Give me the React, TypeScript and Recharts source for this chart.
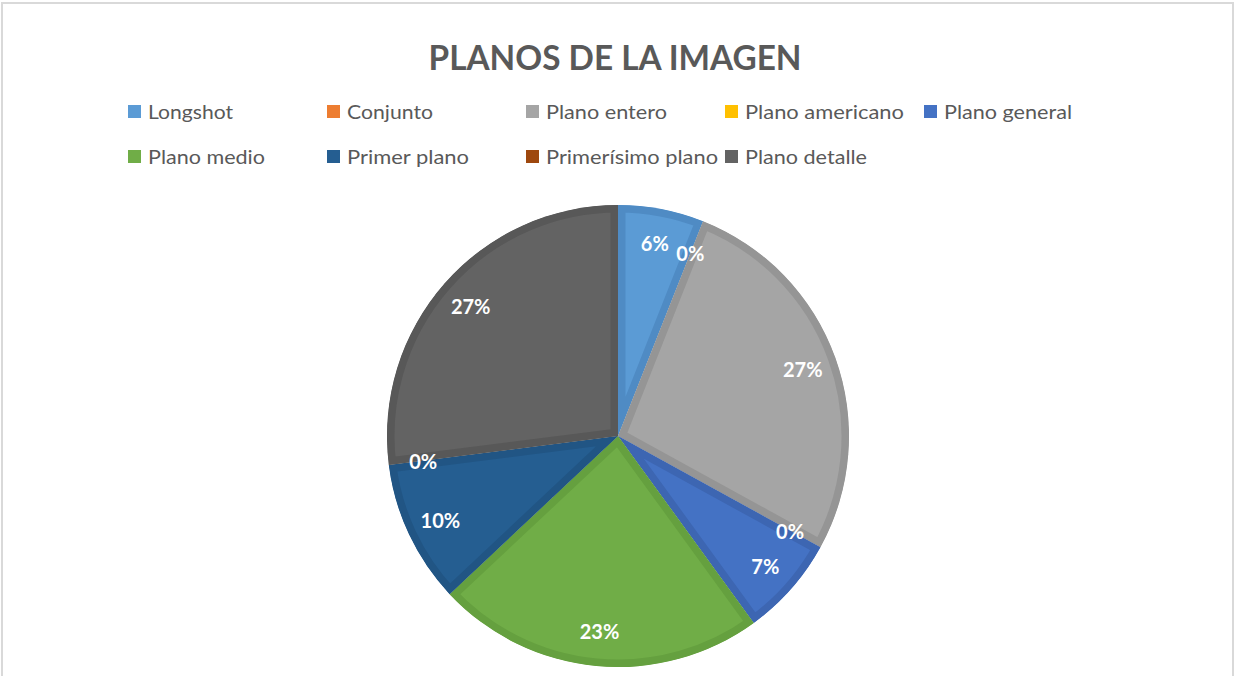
import React from 'react';
import { PieChart, Pie, Cell, Sector } from 'recharts';

const categories = ['Longshot', 'Conjunto', 'Plano entero', 'Plano americano', 'Plano general', 'Plano medio', 'Primer plano', 'Primerísimo plano', 'Plano detalle'];
const values = [6, 0, 27, 0, 7, 23, 10, 0, 27];
const colors = ['#5B9BD5', '#ED7D31', '#A5A5A5', '#FFC000', '#4472C4', '#70AD47', '#255E91', '#9E480E', '#636363'];
const borders = ['#4F8BC4', '#D96F28', '#959595', '#E8AE00', '#3D66B2', '#65A03F', '#215584', '#8C3F0C', '#585858'];
const legendWidths = [85, 86, 121, 159, 128, 117, 122, 172, 122];

const data = categories.map((name, i) => ({ name, value: values[i] }));

const FONT = 'Lato, "Open Sans", sans-serif';

const SliceShape = (props: any) => {
  const { cx, cy, innerRadius, outerRadius, startAngle, endAngle, fill, index } = props;
  const id = `slice-clip-${index}`;
  const geom = { cx, cy, innerRadius, outerRadius, startAngle, endAngle };
  return (
    <g>
      <defs>
        <clipPath id={id}>
          <Sector {...geom} />
        </clipPath>
      </defs>
      <Sector {...geom} fill={fill} stroke={borders[index]} strokeWidth={15} clipPath={`url(#${id})`} />
    </g>
  );
};

const renderLabel = (p: any) => {
  const RAD = Math.PI / 180;
  const r = p.outerRadius * 0.85;
  const x = p.cx + r * Math.cos(-p.midAngle * RAD);
  const y = p.cy + r * Math.sin(-p.midAngle * RAD);
  return (
    <text x={x} y={y} fill="#ffffff" textAnchor="middle" dominantBaseline="central" fontSize={20} fontWeight={700} fontFamily={FONT}>
      {`${p.value}%`}
    </text>
  );
};

const LegendContent = () => (
  <div style={{ position: 'relative', width: 1234, height: 90 }}>
    {categories.map((name, i) => {
      const col = i < 5 ? i : i - 5;
      const row = i < 5 ? 0 : 1;
      return (
        <div key={name} style={{ position: 'absolute', left: 128 + col * 199, top: row * 45, height: 24, display: 'flex', alignItems: 'center' }}>
          <div style={{ width: 13, height: 13, background: colors[i], marginRight: 7 }} />
          <svg width={legendWidths[i] + 4} height={24} style={{ overflow: 'visible' }}>
            <text x={0} y={12} dominantBaseline="central" fontSize={20} fill="#595959" fontFamily={FONT} textLength={legendWidths[i]} lengthAdjust="spacingAndGlyphs">
              {name}
            </text>
          </svg>
        </div>
      );
    })}
  </div>
);

export default function App() {
  return (
    <div style={{ position: 'fixed', left: 0, top: 0, width: 1234, height: 676, background: '#ffffff', overflow: 'hidden' }}>
      <div style={{ position: 'absolute', left: 1, top: 2, width: 1229, height: 700, borderLeft: '2px solid #d9d9d9', borderRight: '2px solid #d9d9d9', borderTop: '2px solid #d9d9d9' }} />
      <svg width={1234} height={100} style={{ position: 'absolute', left: 0, top: 0 }}>
        <text x={615} y={56} textAnchor="middle" dominantBaseline="central" fontSize={34} fontWeight={700} fill="#595959" fontFamily={FONT} textLength={373} lengthAdjust="spacingAndGlyphs">
          PLANOS DE LA IMAGEN
        </text>
      </svg>
      <div style={{ position: 'absolute', left: 0, top: 99 }}>
        <LegendContent />
      </div>
      <div style={{ position: 'absolute', left: 0, top: 0 }}>
        <PieChart width={1234} height={676} margin={{ top: 0, right: 0, bottom: 0, left: 0 }}>
          <Pie
            data={data}
            dataKey="value"
            nameKey="name"
            cx={618}
            cy={436}
            outerRadius={231}
            startAngle={90}
            endAngle={-270}
            stroke="none"
            isAnimationActive={false}
            shape={SliceShape}
            label={renderLabel}
            labelLine={false}
          >
            {data.map((d, i) => (
              <Cell key={d.name} fill={colors[i]} />
            ))}
          </Pie>
        </PieChart>
      </div>
    </div>
  );
}
